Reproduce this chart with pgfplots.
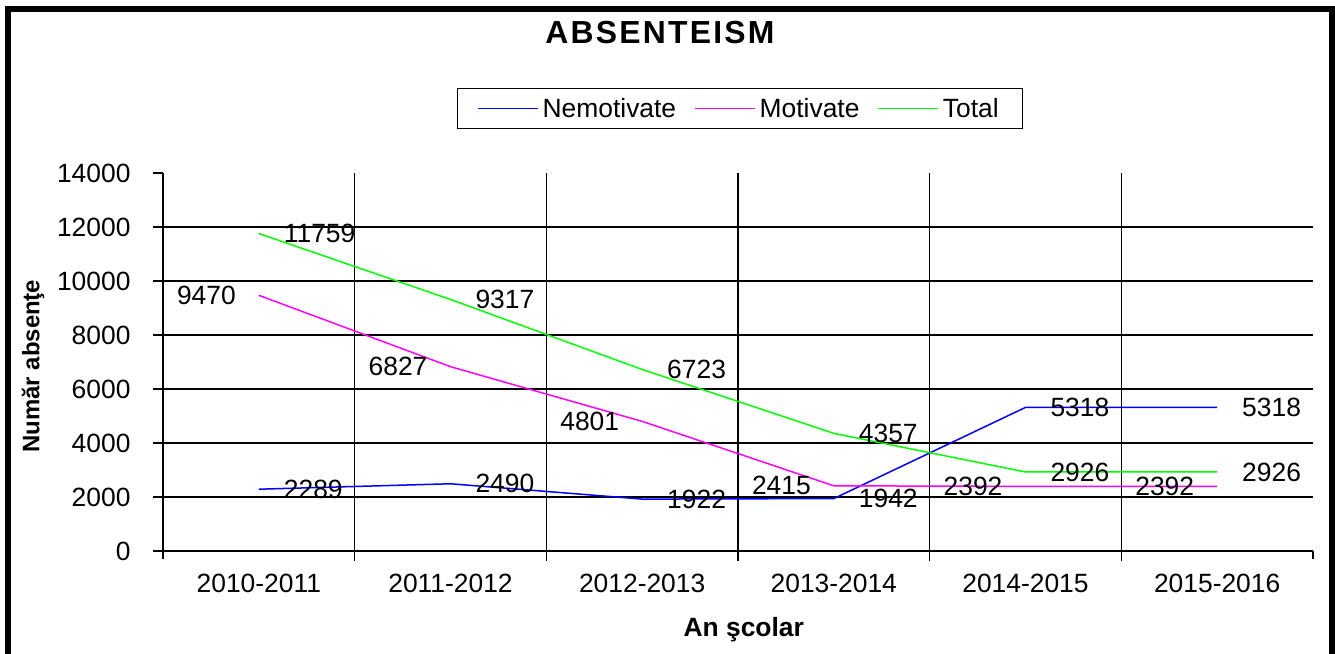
\documentclass[border=0pt]{standalone}
\usepackage{fontspec}
\setmainfont{Liberation Sans}
\usepackage{pgfplots}
\pgfplotsset{compat=1.18}
\definecolor{cblue}{RGB}{0,0,255}
\definecolor{cmag}{RGB}{255,0,255}
\definecolor{cgreen}{RGB}{0,255,0}
\newcommand{\lbl}{\fontsize{26.5}{30}\selectfont}
\begin{document}
\begin{tikzpicture}
\useasboundingbox (0bp,0bp) rectangle (1335bp,654bp);
\fill[white] (0bp,0bp) rectangle (1335bp,654bp);
\draw[line width=6.5bp] (8bp,-5bp) -- (8bp,645bp) -- (1332bp,645bp) -- (1332bp,-5bp);
\node[font=\bfseries\fontsize{32}{36}\selectfont\addfontfeature{LetterSpace=7}] at (660bp,621.5bp) {ABSENTEISM};
\begin{axis}[
  at={(163bp,103bp)}, anchor=south west,
  scale only axis, width=1150bp, height=378bp,
  xmin=0, xmax=6, ymin=0, ymax=14000,
  axis lines*=left,
  axis line style={black, line width=1.3bp},
  clip=false,
  scaled y ticks=false,
  /pgf/number format/1000 sep={},
  /pgf/number format/assume math mode=true,
  tick align=outside,
  major tick length=10bp, minor tick length=8bp,
  tick style={black, line width=1.3bp},
  xtick={1,2,3,4,5}, xticklabels={},
  xmajorgrids,
  minor xtick={0,6},
  extra x ticks={0.5,1.5,2.5,3.5,4.5,5.5},
  extra x tick labels={2010-2011,2011-2012,2012-2013,2013-2014,2014-2015,2015-2016},
  extra x tick style={major tick length=0bp, grid=none, tick label style={yshift=-20bp}},
  ytick={0,2000,...,12000},
  ymajorgrids,
  extra y ticks={14000},
  extra y tick style={grid=none},
  grid style={black, line width=1.3bp},
  yticklabel style={xshift=-19bp},
  tick label style={font=\lbl},
  xlabel={An şcolar},
  ylabel={Număr absenţe},
  xlabel style={font=\bfseries\fontsize{26.5}{30}\selectfont, at={(axis description cs:0.505,-0.209)}, anchor=center},
  ylabel style={font=\bfseries\fontsize{24}{28}\selectfont, at={(axis description cs:-0.113,0.489)}, anchor=center},
  legend columns=3,
  legend style={at={(axis description cs:0.5017,1.1706)}, anchor=center, draw=black, line width=1.3bp, font=\lbl,
    inner xsep=20bp, inner ysep=6bp, nodes={inner sep=4bp},
    /tikz/every even column/.append style={column sep=14bp}},
  legend image code/.code={\draw[#1, line width=1.5bp] (0bp,0bp) -- (60bp,0bp);},
]
\addplot[cblue, line width=1.5bp, nodes near coords, nodes near coords align={anchor=west},
  every node near coord/.append style={xshift=21bp, font=\lbl, text=black}]
  coordinates {(0.5,2289) (1.5,2490) (2.5,1922) (3.5,1942) (4.5,5318) (5.5,5318)};
\addlegendentry{Nemotivate}
\addplot[cmag, line width=1.5bp, nodes near coords, nodes near coords align={anchor=east},
  every node near coord/.append style={xshift=-19bp, font=\lbl, text=black}]
  coordinates {(0.5,9470) (1.5,6827) (2.5,4801) (3.5,2415) (4.5,2392) (5.5,2392)};
\addlegendentry{Motivate}
\addplot[cgreen, line width=1.5bp, nodes near coords, nodes near coords align={anchor=west},
  every node near coord/.append style={xshift=21bp, font=\lbl, text=black}]
  coordinates {(0.5,11759) (1.5,9317) (2.5,6723) (3.5,4357) (4.5,2926) (5.5,2926)};
\addlegendentry{Total}
\end{axis}
\end{tikzpicture}
\end{document}
